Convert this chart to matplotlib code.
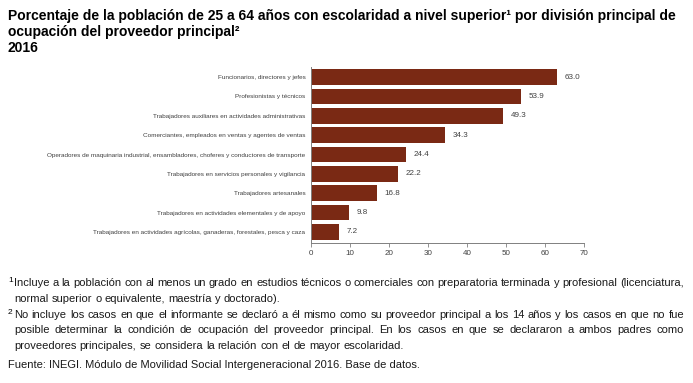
import matplotlib.pyplot as plt

# datos
categorias = [
    "Funcionarios, directores y jefes",
    "Profesionistas y técnicos",
    "Trabajadores auxiliares en actividades administrativas",
    "Comerciantes, empleados en ventas y agentes de ventas",
    "Operadores de maquinaria industrial, ensambladores, choferes y conductores de transporte",
    "Trabajadores en servicios personales y vigilancia",
    "Trabajadores artesanales",
    "Trabajadores en actividades elementales y de apoyo",
    "Trabajadores en actividades agrícolas, ganaderas, forestales, pesca y caza",
]
porcentajes = [63.0, 53.9, 49.3, 34.3, 24.4, 22.2, 16.8, 9.8, 7.2]
ticks_x = [0, 10, 20, 30, 40, 50, 60, 70]

titulo = ("Porcentaje de la población de 25 a 64 años con escolaridad a nivel superior¹ por división principal de\n"
          "ocupación del proveedor principal²\n"
          "2016")
nota1 = ["Incluye a la población con al menos un grado en estudios técnicos o comerciales con preparatoria terminada y profesional (licenciatura,",
         "normal superior o equivalente, maestría y doctorado)."]
nota2 = ["No incluye los casos en que el informante se declaró a él mismo como su proveedor principal a los 14 años y los casos en que no fue",
         "posible determinar la condición de ocupación del proveedor principal. En los casos en que se declararon a ambos padres como",
         "proveedores principales, se considera la relación con el de mayor escolaridad."]
fuente = "Fuente: INEGI. Módulo de Movilidad Social Intergeneracional 2016. Base de datos."

plt.rcParams['font.family'] = ['Liberation Sans', 'DejaVu Sans']

fig = plt.figure(figsize=(6.93, 3.83), dpi=100)
ax = fig.add_axes([0.4488, 0.3655, 0.3939, 0.4595])

pos = list(range(len(categorias)))[::-1]
ax.barh(pos, porcentajes, height=0.81, color='#7a2914')
for p, v in zip(pos, porcentajes):
    ax.text(v + 2.0, p, f"{v:.1f}", va='center', ha='left', fontsize=5.8, color='#404040')

ax.set_yticks(pos)
ax.set_yticklabels(categorias, fontsize=4.6, color='#404040')
ax.set_xticks(ticks_x)
ax.set_xticklabels([str(t) for t in ticks_x], fontsize=5.8, color='#404040')
ax.set_xlim(0, 70)
ax.set_ylim(-0.57, 8.52)
ax.tick_params(axis='y', length=0, pad=4)
ax.tick_params(axis='x', length=3, width=0.6, color='#808080', pad=2)
for s in ['top', 'right']:
    ax.spines[s].set_visible(False)
for s in ['left', 'bottom']:
    ax.spines[s].set_color('#808080')
    ax.spines[s].set_linewidth(0.7)

fig.text(8 / 693, 1 - 9 / 383, titulo, fontsize=10, fontweight='bold', va='top', ha='left',
         linespacing=1.2)

# notas con texto justificado
renderer = fig.canvas.get_renderer()


def ancho(texto, size):
    t = fig.text(0, 0, texto, fontsize=size)
    w = t.get_window_extent(renderer).width / fig.bbox.width
    t.remove()
    return w


def linea_justificada(texto, x0, x1, y, size, justificar):
    palabras = texto.split(' ')
    objs = [fig.text(x0, y, w, fontsize=size, va='baseline', ha='left', color='#1a1a1a') for w in palabras]
    anchos = [o.get_window_extent(renderer).width / fig.bbox.width for o in objs]
    if justificar and len(palabras) > 1:
        hueco = (x1 - x0 - sum(anchos)) / (len(palabras) - 1)
    else:
        hueco = ancho('a a', size) - ancho('aa', size)
    x = x0
    for o, a in zip(objs, anchos):
        o.set_x(x)
        x += a + hueco


x0, x1 = 14 / 693, 684 / 693
dy = 15.8 / 383
y = 1 - 286 / 383
fig.text(8 / 693, y + 4 / 383, '1', fontsize=6, va='baseline', ha='left')
for i, l in enumerate(nota1):
    linea_justificada(l, x0, x1, y, 8, i < len(nota1) - 1)
    y -= dy
fig.text(8 / 693, y + 4 / 383, '2', fontsize=6, va='baseline', ha='left')
for i, l in enumerate(nota2):
    linea_justificada(l, x0, x1, y, 8, i < len(nota2) - 1)
    y -= dy
y -= 3.5 / 383
fig.text(8 / 693, y, fuente, fontsize=8, va='baseline', ha='left', color='#1a1a1a')

fig.savefig('out.png', dpi=100)
